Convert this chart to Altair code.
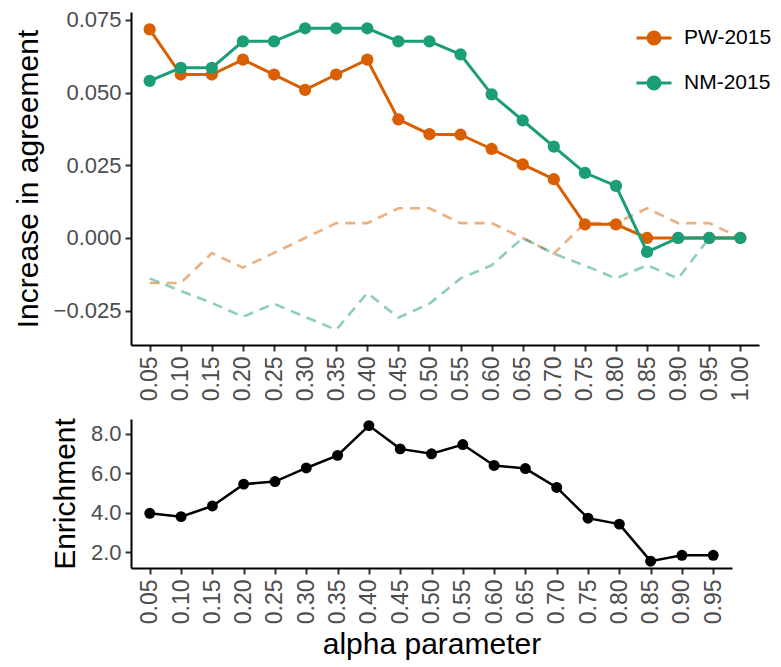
import altair as alt
import pandas as pd

# ---- data ----
alpha_top = ["0.05", "0.10", "0.15", "0.20", "0.25", "0.30", "0.35", "0.40", "0.45", "0.50",
             "0.55", "0.60", "0.65", "0.70", "0.75", "0.80", "0.85", "0.90", "0.95", "1.00"]
pw_2015 = [0.0717, 0.0562, 0.0562, 0.0613, 0.0562, 0.0509, 0.0562, 0.0613, 0.0408, 0.0357,
           0.0355, 0.0306, 0.0253, 0.0202, 0.0047, 0.0047, 0.0000, 0.0000, 0.0000, 0.0000]
nm_2015 = [0.0540, 0.0585, 0.0585, 0.0676, 0.0676, 0.0721, 0.0721, 0.0721, 0.0676, 0.0676,
           0.0631, 0.0494, 0.0404, 0.0314, 0.0224, 0.0179, -0.0048, 0.0000, 0.0000, 0.0000]
pw_2015_null = [-0.0155, -0.0155, -0.0052, -0.0102, -0.0051, 0.0000, 0.0051, 0.0051, 0.0102, 0.0102,
                0.0051, 0.0051, 0.0000, -0.0054, 0.0051, 0.0051, 0.0102, 0.0051, 0.0051, 0.0000]
nm_2015_null = [-0.0139, -0.0182, -0.0223, -0.0271, -0.0226, -0.0271, -0.0316, -0.0189, -0.0274, -0.0226,
                -0.0139, -0.0094, 0.0000, -0.0054, -0.0095, -0.0139, -0.0094, -0.0139, 0.0000, 0.0000]

alpha_bottom = ["0.05", "0.10", "0.15", "0.20", "0.25", "0.30", "0.35", "0.40", "0.45", "0.50",
                "0.55", "0.60", "0.65", "0.70", "0.75", "0.80", "0.85", "0.90", "0.95"]
enrichment = [3.97, 3.80, 4.34, 5.45, 5.58, 6.27, 6.91, 8.42, 7.24, 6.99,
              7.46, 6.40, 6.24, 5.28, 3.72, 3.42, 1.54, 1.84, 1.84]

series_names = ["PW-2015", "NM-2015"]
series_colors = ["#D95F02", "#1B9E77"]
color_of = dict(zip(series_names, series_colors))

# ---- tables ----
rows = []
for name, obs, nul in [("PW-2015", pw_2015, pw_2015_null), ("NM-2015", nm_2015, nm_2015_null)]:
    for a, v in zip(alpha_top, obs):
        rows.append({"alpha": a, "series": name, "kind": "observed", "value": v,
                     "hex": color_of[name]})
    for a, v in zip(alpha_top, nul):
        rows.append({"alpha": a, "series": name, "kind": "null", "value": v,
                     "hex": color_of[name]})
top_df = pd.DataFrame(rows)
bottom_df = pd.DataFrame({"alpha": alpha_bottom, "enrichment": enrichment})

FONT = "Liberation Sans"
LABEL_GREY = "#4D4D4D"

color_scale = alt.Scale(domain=series_names, range=series_colors)
legend = alt.Legend(
    title=None, orient="none", legendX=504, legendY=7, direction="vertical",
    labelFontSize=21, labelColor="black", labelFont=FONT, labelOffset=11,
    symbolType="M-1,0L1,0M-0.34,0A0.34,0.34,0,1,1,0.34,0A0.34,0.34,0,1,1,-0.34,0Z",
    symbolSize=1225, symbolStrokeWidth=3, rowPadding=14,
    symbolOpacity=1,
)

def x_axis(title=None):
    kw = dict(labelAngle=-90, labelFontSize=23, labelColor=LABEL_GREY, labelFont=FONT,
              labelPadding=5, domainColor="black", domainWidth=2, tickColor="#333333",
              tickWidth=2, tickSize=6, grid=False)
    if title is not None:
        kw.update(titleFontSize=30, titleColor="black", titleFont=FONT,
                  titleFontWeight="normal", titlePadding=6)
    return alt.Axis(**kw)

def y_axis(values, fmt):
    return alt.Axis(values=values, format=fmt, labelFontSize=22, labelColor=LABEL_GREY,
                    labelFont=FONT, labelPadding=4, domainColor="black", domainWidth=2,
                    tickColor="#333333", tickWidth=2, tickSize=6, grid=False,
                    titleFontSize=30, titleColor="black", titleFont=FONT,
                    titleFontWeight="normal", titlePadding=10)

xs_top = alt.X("alpha:O", sort=alpha_top, title=None,
               scale=alt.Scale(type="point", padding=0.6), axis=x_axis())
ys_top = alt.Y("value:Q", title="Increase in agreement",
               scale=alt.Scale(domain=[-0.0368, 0.0777], nice=False, zero=False),
               axis=y_axis([-0.025, 0.0, 0.025, 0.05, 0.075], ".3f"))

base_top = alt.Chart(top_df)

dashed = base_top.transform_filter(alt.datum.kind == "null").mark_line(
    strokeDash=[10, 7], strokeWidth=2.6, opacity=0.5
).encode(x=xs_top, y=ys_top,
         stroke=alt.Stroke("hex:N", scale=None),
         detail="series:N")

layers = [dashed]
for name in series_names:
    sub = base_top.transform_filter(
        (alt.datum.kind == "observed") & (alt.datum.series == name))
    layers.append(sub.mark_line(strokeWidth=3).encode(
        x=xs_top, y=ys_top, color=alt.Color("series:N", scale=color_scale, legend=legend)))
    layers.append(sub.mark_point(filled=True, size=150, opacity=1).encode(
        x=xs_top, y=ys_top, color=alt.Color("series:N", scale=color_scale, legend=legend)))

top = alt.layer(*layers).properties(width=628, height=333)

xs_bot = alt.X("alpha:O", sort=alpha_bottom, title="alpha parameter",
               scale=alt.Scale(type="point", padding=0.6), axis=x_axis("alpha parameter"))
ys_bot = alt.Y("enrichment:Q", title="Enrichment",
               scale=alt.Scale(domain=[1.193, 8.756], nice=False, zero=False),
               axis=y_axis([2, 4, 6, 8], ".1f"))
base_bot = alt.Chart(bottom_df)
bottom = alt.layer(
    base_bot.mark_line(color="black", strokeWidth=2.5).encode(x=xs_bot, y=ys_bot),
    base_bot.mark_point(filled=True, color="black", size=120, opacity=1).encode(x=xs_bot, y=ys_bot),
).properties(width=601, height=149)

chart = alt.vconcat(top, bottom, spacing=16).properties(
    padding={"left": 5, "top": 0, "right": 0, "bottom": 0}
).configure(font=FONT, view=alt.ViewConfig(stroke=None))

chart.save("out.html", embed_options={"renderer": "svg", "actions": False})
